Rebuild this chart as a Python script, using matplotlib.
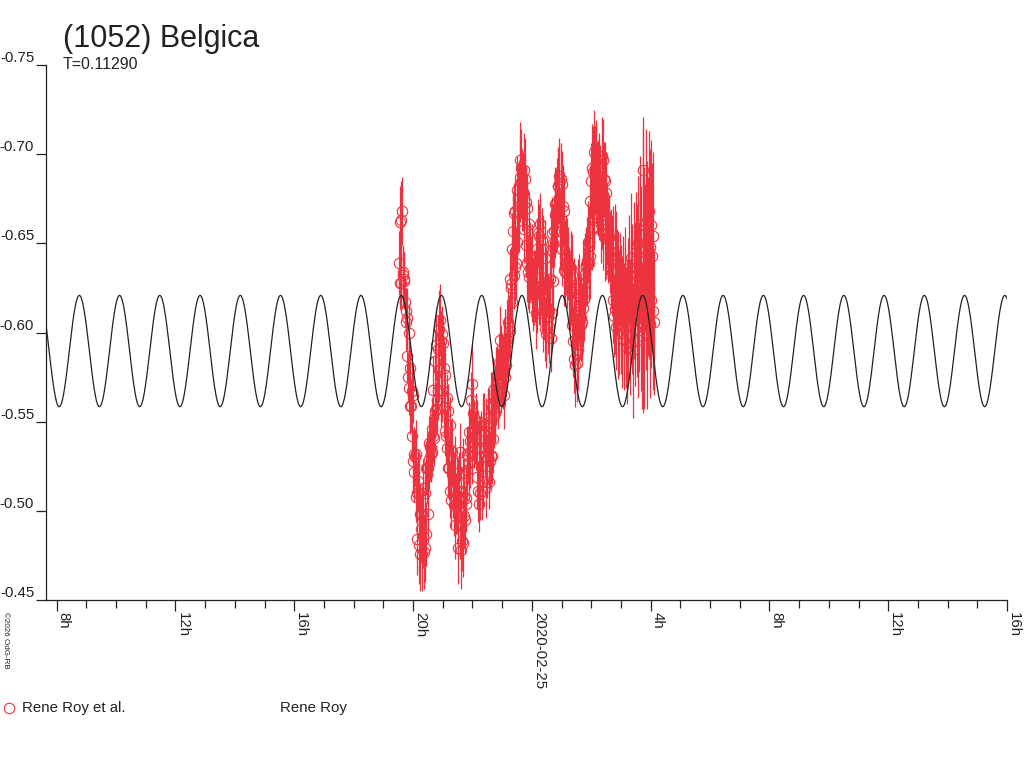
import numpy as np
import matplotlib
matplotlib.use('Agg')
import matplotlib.pyplot as plt
from matplotlib.lines import Line2D
from matplotlib.ticker import FixedLocator, MultipleLocator

plt.rcParams['font.family'] = ['Liberation Sans', 'DejaVu Sans']
plt.rcParams['axes.unicode_minus'] = False

# --- data -------------------------------------------------------------
# time of each observation, hours since 2020-02-24 00:00 UT
obs_hours = [
    19.53, 19.55, 19.57, 19.59, 19.61, 19.63, 19.65, 19.67, 19.69, 19.71,
    19.73, 19.75, 19.77, 19.79, 19.81, 19.83, 19.85, 19.87, 19.89, 19.91,
    19.93, 19.95, 19.97, 19.99, 20.01, 20.03, 20.05, 20.07, 20.09, 20.11,
    20.13, 20.15, 20.17, 20.19, 20.21, 20.23, 20.25, 20.27, 20.29, 20.31,
    20.33, 20.35, 20.37, 20.39, 20.41, 20.43, 20.45, 20.47, 20.49, 20.51,
    20.53, 20.55, 20.57, 20.59, 20.61, 20.63, 20.65, 20.67, 20.69, 20.71,
    20.73, 20.75, 20.77, 20.79, 20.81, 20.83, 20.85, 20.87, 20.89, 20.91,
    20.93, 20.95, 20.97, 20.99, 21.01, 21.03, 21.05, 21.07, 21.09, 21.11,
    21.13, 21.15, 21.17, 21.19, 21.21, 21.23, 21.25, 21.27, 21.29, 21.31,
    21.33, 21.35, 21.37, 21.39, 21.41, 21.43, 21.45, 21.47, 21.49, 21.51,
    21.53, 21.55, 21.57, 21.59, 21.61, 21.63, 21.65, 21.67, 21.69, 21.71,
    21.73, 21.75, 21.77, 21.79, 21.81, 21.83, 21.85, 21.87, 21.89, 21.91,
    21.93, 21.95, 21.97, 21.99, 22.01, 22.03, 22.05, 22.07, 22.09, 22.11,
    22.13, 22.15, 22.17, 22.19, 22.21, 22.23, 22.25, 22.27, 22.29, 22.31,
    22.33, 22.35, 22.37, 22.39, 22.41, 22.43, 22.45, 22.47, 22.49, 22.51,
    22.53, 22.55, 22.57, 22.59, 22.61, 22.63, 22.65, 22.67, 22.69, 22.71,
    22.73, 22.75, 22.77, 22.79, 22.81, 22.83, 22.85, 22.87, 22.89, 22.91,
    22.93, 22.95, 22.97, 22.99, 23.01, 23.03, 23.05, 23.07, 23.09, 23.11,
    23.13, 23.15, 23.17, 23.19, 23.21, 23.23, 23.25, 23.27, 23.29, 23.31,
    23.33, 23.35, 23.37, 23.39, 23.41, 23.43, 23.45, 23.47, 23.49, 23.51,
    23.53, 23.55, 23.57, 23.59, 23.61, 23.63, 23.65, 23.67, 23.69, 23.71,
    23.73, 23.75, 23.77, 23.79, 23.81, 23.83, 23.85, 23.87, 23.89, 23.91,
    23.93, 23.95, 23.97, 23.99, 24.01, 24.03, 24.05, 24.07, 24.09, 24.11,
    24.13, 24.15, 24.17, 24.19, 24.21, 24.23, 24.25, 24.27, 24.29, 24.31,
    24.33, 24.35, 24.37, 24.39, 24.41, 24.43, 24.45, 24.47, 24.49, 24.51,
    24.53, 24.55, 24.57, 24.59, 24.61, 24.63, 24.65, 24.67, 24.69, 24.71,
    24.73, 24.75, 24.77, 24.79, 24.81, 24.83, 24.85, 24.87, 24.89, 24.91,
    24.93, 24.95, 24.97, 24.99, 25.01, 25.03, 25.05, 25.07, 25.09, 25.11,
    25.13, 25.15, 25.17, 25.19, 25.21, 25.23, 25.25, 25.27, 25.29, 25.31,
    25.33, 25.35, 25.37, 25.39, 25.41, 25.43, 25.45, 25.47, 25.49, 25.51,
    25.53, 25.55, 25.57, 25.59, 25.61, 25.63, 25.65, 25.67, 25.69, 25.71,
    25.73, 25.75, 25.77, 25.79, 25.81, 25.83, 25.85, 25.87, 25.89, 25.91,
    25.93, 25.95, 25.97, 25.99, 26.01, 26.03, 26.05, 26.07, 26.09, 26.11,
    26.13, 26.15, 26.17, 26.19, 26.21, 26.23, 26.25, 26.27, 26.29, 26.31,
    26.33, 26.35, 26.37, 26.39, 26.41, 26.43, 26.45, 26.47, 26.49, 26.51,
    26.53, 26.55, 26.57, 26.59, 26.61, 26.63, 26.65, 26.67, 26.69, 26.71,
    26.73, 26.75, 26.77, 26.79, 26.81, 26.83, 26.85, 26.87, 26.89, 26.91,
    26.93, 26.95, 26.97, 26.99, 27.01, 27.03, 27.05, 27.07, 27.09, 27.11,
    27.13, 27.15, 27.17, 27.19, 27.21, 27.23, 27.25, 27.27, 27.29, 27.31,
    27.33, 27.35, 27.37, 27.39, 27.41, 27.43, 27.45, 27.47, 27.49, 27.51,
    27.53, 27.55, 27.57, 27.59, 27.61, 27.63, 27.65, 27.67, 27.69, 27.71,
    27.73, 27.75, 27.77, 27.79, 27.81, 27.83, 27.85, 27.87, 27.89, 27.91,
    27.93, 27.95, 27.97, 27.99, 28.01, 28.03, 28.05, 28.07, 28.09, 28.11,
]

# relative magnitude, millimag
obs_mmag = [
    -639, -662, -628, -663, -628, -668, -634, -632, -630, -629,
    -617, -606, -612, -587, -608, -575, -600, -569, -580, -559,
    -559, -567, -542, -565, -528, -532, -522, -530, -508, -532,
    -510, -484, -517, -481, -510, -476, -498, -490, -498, -475,
    -486, -513, -477, -510, -479, -524, -487, -524, -498, -524,
    -538, -529, -536, -532, -535, -533, -546, -542, -568, -541,
    -556, -584, -557, -593, -562, -591, -567, -602, -579, -607,
    -595, -566, -599, -568, -594, -558, -580, -545, -576, -542,
    -535, -563, -524, -556, -524, -548, -511, -534, -506, -533,
    -518, -512, -513, -503, -527, -492, -504, -503, -509, -511,
    -479, -516, -492, -533, -478, -507, -483, -521, -482, -508,
    -497, -495, -504, -507, -532, -523, -531, -527, -544, -539,
    -533, -562, -533, -571, -546, -555, -546, -542, -541, -540,
    -550, -519, -547, -511, -535, -504, -535, -510, -539, -511,
    -516, -549, -517, -548, -535, -536, -513, -548, -525, -552,
    -542, -516, -550, -528, -560, -531, -558, -531, -568, -540,
    -553, -562, -555, -570, -567, -576, -567, -573, -574, -583,
    -596, -572, -583, -576, -584, -577, -591, -565, -595, -575,
    -582, -596, -594, -606, -597, -603, -601, -630, -627, -625,
    -647, -617, -657, -632, -667, -637, -668, -639, -680, -651,
    -668, -675, -671, -697, -687, -692, -684, -680, -678, -679,
    -691, -658, -686, -649, -673, -639, -670, -634, -661, -631,
    -636, -641, -636, -639, -626, -625, -620, -625, -622, -626,
    -639, -611, -647, -622, -656, -625, -654, -624, -661, -631,
    -621, -652, -611, -647, -613, -642, -602, -628, -599, -629,
    -614, -609, -612, -603, -630, -597, -646, -611, -656, -629,
    -650, -657, -666, -672, -668, -672, -673, -682, -682, -684,
    -688, -657, -686, -657, -683, -647, -671, -635, -668, -634,
    -643, -644, -633, -643, -636, -639, -626, -625, -623, -624,
    -636, -604, -632, -595, -620, -585, -617, -582, -610, -583,
    -588, -621, -590, -619, -610, -608, -604, -608, -606, -630,
    -614, -619, -627, -633, -638, -637, -640, -639, -651, -651,
    -639, -674, -643, -685, -658, -692, -659, -690, -667, -701,
    -691, -689, -696, -681, -683, -681, -690, -677, -679, -679,
    -663, -699, -673, -697, -660, -686, -653, -685, -656, -678,
    -661, -653, -657, -653, -654, -645, -643, -635, -642, -634,
    -618, -645, -609, -644, -613, -641, -603, -628, -600, -629,
    -604, -615, -630, -609, -622, -600, -614, -628, -606, -596,
    -618, -632, -603, -612, -592, -625, -608, -636, -614, -598,
    -620, -642, -606, -628, -590, -615, -638, -602, -624, -645,
    -611, -632, -596, -650, -620, -640, -660, -612, -648, -598,
    -691, -635, -655, -605, -642, -662, -618, -650, -600, -637,
    -668, -625, -648, -605, -660, -618, -643, -612, -654, -606,
]

# 1-sigma error, millimag
obs_err_mmag = [
    18, 20, 15, 22, 16, 19, 14, 17, 15, 16,
    14, 16, 13, 15, 17, 14, 16, 15, 13, 16,
    15, 17, 14, 16, 18, 15, 17, 16, 14, 19,
    17, 20, 16, 22, 18, 21, 17, 19, 16, 20,
    18, 16, 21, 17, 19, 15, 18, 20, 16, 17,
    15, 17, 19, 16, 18, 14, 17, 15, 19, 16,
    16, 18, 15, 20, 17, 19, 16, 22, 18, 20,
    17, 19, 16, 18, 15, 17, 16, 14, 18, 15,
    16, 14, 17, 15, 18, 16, 15, 17, 16, 19,
    18, 16, 20, 17, 15, 19, 17, 16, 21, 18,
    20, 17, 19, 16, 22, 18, 17, 20, 19, 18,
    17, 19, 16, 18, 15, 17, 16, 19, 17, 18,
    20, 16, 18, 22, 17, 19, 16, 18, 15, 17,
    16, 18, 15, 17, 19, 16, 18, 15, 17, 16,
    15, 17, 16, 18, 14, 16, 17, 15, 18, 16,
    17, 15, 19, 16, 18, 17, 20, 16, 18, 19,
    18, 20, 17, 22, 19, 17, 21, 18, 20, 17,
    19, 17, 21, 18, 16, 20, 17, 19, 18, 16,
    18, 20, 17, 19, 22, 18, 20, 17, 21, 19,
    20, 18, 22, 19, 17, 21, 18, 20, 19, 22,
    24, 20, 26, 21, 25, 22, 20, 23, 19, 22,
    21, 19, 23, 18, 20, 22, 19, 21, 18, 20,
    19, 21, 18, 22, 20, 17, 19, 21, 18, 20,
    18, 20, 17, 22, 19, 21, 18, 20, 17, 19,
    20, 18, 22, 19, 17, 21, 18, 20, 19, 17,
    19, 21, 18, 20, 22, 19, 21, 18, 20, 22,
    22, 20, 24, 21, 23, 20, 25, 22, 21, 23,
    21, 23, 20, 22, 19, 21, 23, 20, 22, 19,
    20, 22, 19, 21, 18, 20, 22, 19, 21, 20,
    21, 19, 23, 20, 22, 19, 21, 24, 20, 22,
    23, 20, 22, 25, 21, 23, 20, 24, 22, 21,
    22, 24, 21, 23, 20, 22, 25, 21, 23, 20,
    22, 20, 24, 21, 23, 25, 22, 26, 21, 24,
    25, 28, 23, 26, 24, 27, 22, 25, 23, 26,
    24, 22, 26, 23, 25, 21, 24, 22, 26, 23,
    23, 25, 22, 24, 21, 23, 26, 22, 24, 25,
    24, 26, 23, 28, 25, 27, 24, 30, 26, 28,
    28, 30, 26, 32, 27, 31, 29, 26, 33, 28,
    30, 27, 34, 29, 32, 28, 35, 30, 27, 33,
    31, 36, 29, 33, 38, 30, 35, 32, 37, 34,
    36, 40, 33, 38, 42, 35, 39, 45, 34, 41,
    30, 80, 38, 48, 41, 52, 39, 46, 43, 50,
    45, 40, 55, 42, 48, 38, 52, 44, 47, 41,
]

# fitted model: double-peaked sinusoid with the rotation period
period_days = 0.11290
model_mean = -0.5896
model_amplitude = 0.0312
model_max_hour = 8.765   # a brightness maximum (hours since 02-24 00h)

# x axis: hours since 2020-02-24 00:00
x_start, x_end = 7.626, 40.0
tick_hours = [8, 12, 16, 20, 24, 28, 32, 36, 40]
tick_names = ['8h', '12h', '16h', '20h', '2020-02-25', '4h', '8h', '12h', '16h']
mag_ticks = [-0.75, -0.70, -0.65, -0.60, -0.55, -0.50, -0.45]

# --- plot -------------------------------------------------------------
RED = '#ee3340'
INK = '#222222'

fig = plt.figure(figsize=(10.24, 7.68), dpi=100, facecolor='white')
ax = fig.add_axes([45.5 / 1024, 1 - 600 / 768, 961.5 / 1024, 535 / 768])

hours = np.array(obs_hours)
mags = np.array(obs_mmag) / 1000.0
errs = np.array(obs_err_mmag) / 1000.0

ax.errorbar(hours, mags, yerr=errs, fmt='o', color=RED, ecolor=RED,
            markerfacecolor='none', markeredgecolor=RED, markersize=7.5,
            markeredgewidth=0.8, elinewidth=0.9, capsize=0, zorder=2)

half_period_h = period_days * 24 / 2
model_t = np.linspace(x_start, x_end, 3000)
model_mag = model_mean - model_amplitude * np.cos(
    2 * np.pi * (model_t - model_max_hour) / half_period_h)
ax.plot(model_t, model_mag, color=INK, linewidth=0.9, zorder=3)

ax.set_xlim(x_start, x_end)
ax.set_ylim(-0.45, -0.75)

for side in ('top', 'right'):
    ax.spines[side].set_visible(False)
for side in ('left', 'bottom'):
    ax.spines[side].set_color(INK)
    ax.spines[side].set_linewidth(0.9)

ax.xaxis.set_major_locator(FixedLocator(tick_hours))
ax.xaxis.set_minor_locator(MultipleLocator(1))
ax.set_xticklabels(tick_names)
ax.tick_params(axis='x', which='major', direction='out', length=8, width=0.9,
               color=INK, labelsize=10.8, labelcolor=INK, pad=1)
ax.tick_params(axis='x', which='minor', direction='out', length=5.5, width=0.9,
               color=INK)
for lbl in ax.get_xticklabels():
    lbl.set_rotation(270)
    lbl.set_ha('left')
    lbl.set_va('top')

ax.yaxis.set_major_locator(FixedLocator(mag_ticks))
ax.set_yticklabels([f'{v:.2f}' for v in mag_ticks])
ax.tick_params(axis='y', which='major', direction='out', length=7.5, width=0.9,
               color=INK, labelsize=10.8, labelcolor=INK, pad=0.6)
for lbl in ax.get_yticklabels():
    lbl.set_va('bottom')

# titles
fig.text(63 / 1024, 1 - 47 / 768, '(1052) Belgica', fontsize=22, color=INK,
         ha='left', va='baseline')
fig.text(63 / 1024, 1 - 69 / 768, 'T=0.11290', fontsize=11.5, color=INK,
         ha='left', va='baseline')

# legend line
fig.add_artist(Line2D([9.3 / 1024], [1 - 708 / 768], marker='o', markersize=7.5,
                      markerfacecolor='none', markeredgecolor=RED,
                      markeredgewidth=0.8, linestyle='none',
                      transform=fig.transFigure))
fig.text(21.5 / 1024, 1 - 708 / 768, 'Rene Roy et al.', fontsize=10.8,
         color=INK, ha='left', va='center')
fig.text(280 / 1024, 1 - 708 / 768, 'Rene Roy', fontsize=10.8,
         color=INK, ha='left', va='center')

# credit
fig.text(1.5 / 1024, 1 - 612 / 768, '\u00a92026 OdG-RB', fontsize=5.8,
         color=INK, rotation=270, ha='left', va='top')

fig.savefig('out.png', dpi=100, facecolor='white')
